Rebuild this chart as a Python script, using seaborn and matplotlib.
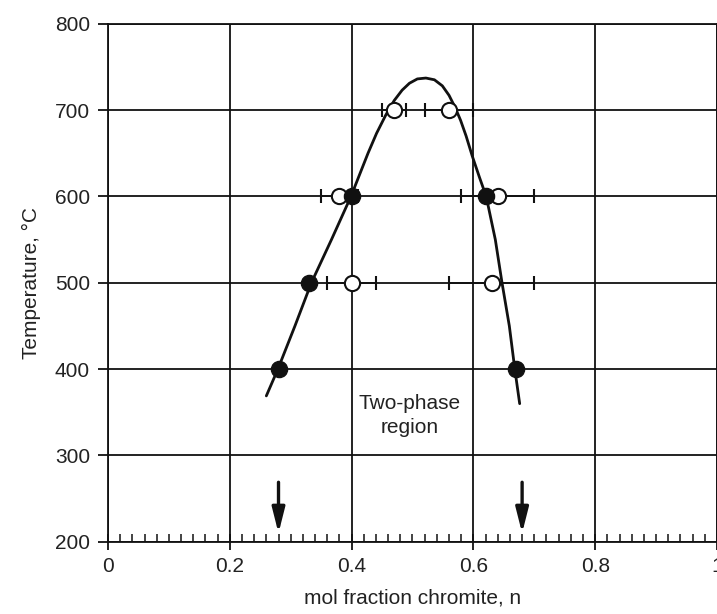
import numpy as np
import pandas as pd
import matplotlib
matplotlib.use("Agg")
import matplotlib.pyplot as plt
from matplotlib.ticker import MultipleLocator
import seaborn as sns

# ---- data ----
filled_x = [0.28, 0.67, 0.33, 0.40, 0.62]
filled_T = [400, 400, 500, 600, 600]

open_x = [0.40, 0.63, 0.38, 0.64, 0.47, 0.56]
open_T = [500, 500, 600, 600, 700, 700]
open_xerr = [0.04, 0.07, 0.03, 0.06, 0.02, 0.04]

curve_x = [0.260, 0.279, 0.307, 0.334, 0.367, 0.399, 0.413, 0.427, 0.441,
           0.456, 0.470, 0.483, 0.495, 0.508, 0.522, 0.536, 0.549, 0.560,
           0.570, 0.579, 0.588, 0.598, 0.610, 0.621, 0.636, 0.647, 0.659,
           0.668, 0.676]
curve_T = [369, 400, 450, 500, 550, 600, 625, 650, 673,
           694, 711, 723, 731, 736, 737, 735, 728, 717,
           703, 688, 670, 647, 622, 600, 550, 500, 450,
           400, 360]

arrow_x = [0.28, 0.68]
arrow_top = [269, 269]
arrow_tip = [210, 210]

x_ticks = [0, 0.2, 0.4, 0.6, 0.8, 1.0]
x_ticklabels = ["0", "0.2", "0.4", "0.6", "0.8", "1"]
y_ticks = [200, 300, 400, 500, 600, 700, 800]

sns.set_theme(style="white")
plt.rcParams["font.family"] = ["Liberation Sans", "DejaVu Sans"]

fig = plt.figure(figsize=(7.17, 6.14), dpi=100)
ax = fig.add_axes([0.1506, 0.1175, 0.8494, 0.844])

ink = "#111111"

ax.set_xlim(0, 1)
ax.set_ylim(200, 800)
ax.set_xticks(x_ticks)
ax.set_xticklabels(x_ticklabels)
ax.set_yticks(y_ticks)
ax.xaxis.set_minor_locator(MultipleLocator(0.02))
ax.grid(True, which="major", color=ink, lw=1.3)
ax.set_axisbelow(True)

for s in ax.spines.values():
    s.set_color(ink)
    s.set_linewidth(1.3)

ax.tick_params(axis="x", which="both", bottom=True, top=False)
ax.tick_params(axis="y", which="both", left=True, right=False)
ax.tick_params(axis="x", which="major", direction="inout", length=12, width=1.3,
               color=ink, labelsize=15, pad=5, labelcolor="#222222")
ax.tick_params(axis="x", which="minor", direction="in", length=6, width=1.1,
               color=ink)
ax.tick_params(axis="y", which="major", direction="out", length=7, width=1.3,
               color=ink, labelsize=15, pad=6, labelcolor="#222222")

# curve
curve_df = pd.DataFrame({"x": curve_x, "T": curve_T})
sns.lineplot(data=curve_df, x="x", y="T", sort=False, estimator=None,
             color=ink, lw=2.0, ax=ax, zorder=3)

# error bars for open circles
ax.errorbar(open_x, open_T, xerr=open_xerr, fmt="none", ecolor=ink,
            elinewidth=1.3, capsize=4.7, capthick=1.5, zorder=4)

# open circles
open_df = pd.DataFrame({"x": open_x, "T": open_T})
sns.scatterplot(data=open_df, x="x", y="T", marker="o", s=120,
                facecolor="white", edgecolor=ink, linewidth=1.5, ax=ax, zorder=5)

# filled circles
filled_df = pd.DataFrame({"x": filled_x, "T": filled_T})
sns.scatterplot(data=filled_df, x="x", y="T", marker="o", s=135,
                color=ink, edgecolor=ink, linewidth=1.0, ax=ax, zorder=6)

# arrows
for xa, yt, yb in zip(arrow_x, arrow_top, arrow_tip):
    ax.annotate("", xy=(xa, yb), xytext=(xa, yt),
                arrowprops=dict(arrowstyle="-|>,head_length=0.95,head_width=0.24",
                                lw=2.4, color=ink, shrinkA=0, shrinkB=0,
                                mutation_scale=16), zorder=6)

ax.text(0.495, 346, "Two-phase\nregion", ha="center", va="center",
        fontsize=15, color="#222222", linespacing=1.35)

ax.set_xlabel("mol fraction chromite, n", fontsize=15, color="#222222", labelpad=9)
ax.set_ylabel("Temperature, \u00b0C", fontsize=15, color="#222222", labelpad=10)

fig.savefig("out.png", dpi=100)
